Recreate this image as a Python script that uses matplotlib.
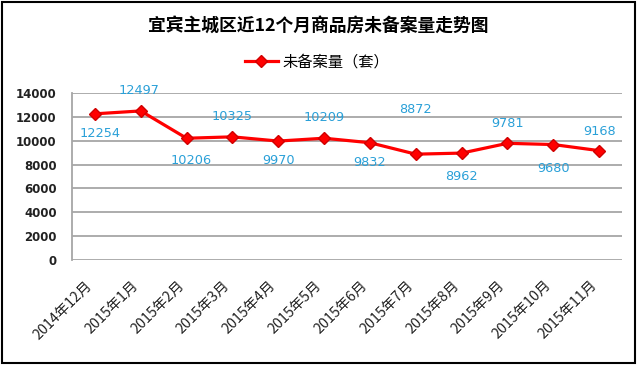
import matplotlib
matplotlib.use('Agg')
import matplotlib.pyplot as plt
from matplotlib.patches import Rectangle

plt.rcParams['font.family'] = ['Noto Sans CJK SC', 'DejaVu Sans']

# 数据
meses = ['2014年12月', '2015年1月', '2015年2月', '2015年3月', '2015年4月', '2015年5月',
         '2015年6月', '2015年7月', '2015年8月', '2015年9月', '2015年10月', '2015年11月']
valores = [12254, 12497, 10206, 10325, 9970, 10209, 9832, 8872, 8962, 9781, 9680, 9168]
yticks = [0, 2000, 4000, 6000, 8000, 10000, 12000, 14000]

# deslocamento dos rótulos (pontos)
desloc_y = [-14, 15, -16, 15, -14, 15, -14, 32, -17, 14, -17, 14]
desloc_x = [4, -1, 3, 0, 0, 0, 0, 0, 0, 0, 0, 0]

fig = plt.figure(figsize=(6.4, 3.65), dpi=100)
ax = fig.add_axes([72/640, 1 - 260/365, 550/640, 167/365])

x = list(range(len(valores)))
ax.plot(x, valores, color='#ff0000', lw=2.3, marker='D', ms=6.5,
        mfc='#ff0000', mec='#d00000', label='未备案量（套）', zorder=3)

for xi, v, dx, dy in zip(x, valores, desloc_x, desloc_y):
    ax.annotate(str(v), (xi, v), xytext=(dx, dy), textcoords='offset points',
                ha='center', va='center', fontsize=9.3, color='#2aa0d8',
                family='DejaVu Sans')

ax.set_xlim(-0.5, len(valores) - 0.5)
ax.set_ylim(0, 14000)
ax.set_yticks(yticks)
ax.set_yticklabels([str(t) for t in yticks], family='DejaVu Sans',
                   fontsize=8.5, fontweight='bold', color='#222222')
ax.set_xticks(x)
ax.set_xticklabels(meses, rotation=45, ha='right', fontsize=10.3, color='#222222')
ax.tick_params(axis='y', length=0, pad=11)
ax.tick_params(axis='x', length=0, pad=13)
ax.grid(axis='y', color='#a6a6a6', lw=1.3)
ax.set_axisbelow(True)
for s in ['top', 'right', 'bottom']:
    ax.spines[s].set_visible(False)
ax.spines['left'].set_color('#a6a6a6')
ax.spines['left'].set_linewidth(1.3)

fig.text(318/640, 1 - 26/365, '宜宾主城区近12个月商品房未备案量走势图',
         ha='center', va='center', fontsize=12.8, fontweight='bold')

ax.legend(loc='center', bbox_to_anchor=(317/640, 1 - 62/365),
          bbox_transform=fig.transFigure, frameon=False, fontsize=11,
          handlelength=2.2, handletextpad=0.3)

# moldura
fig.patches.append(Rectangle((0.003, 0.005), 0.989, 0.99, transform=fig.transFigure,
                             fill=False, ec='black', lw=1.5))

fig.savefig('out.png', dpi=100, facecolor='white')
